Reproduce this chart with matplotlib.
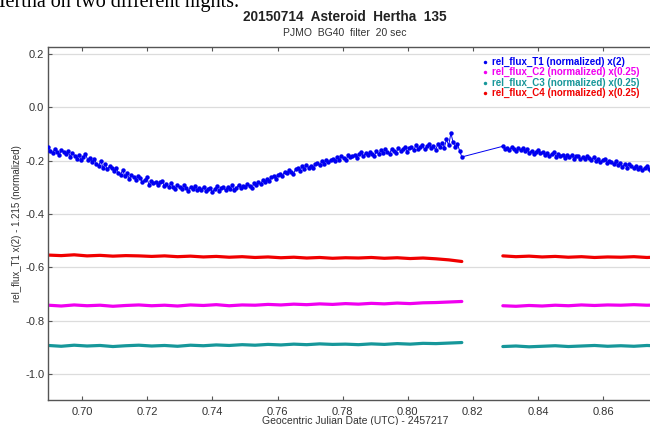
import numpy as np
import matplotlib
matplotlib.use("Agg")
import matplotlib.pyplot as plt
from matplotlib.lines import Line2D

plt.rcParams['font.family'] = ['Liberation Sans', 'DejaVu Sans']

# ---------------- data ----------------
# Target asteroid (rel_flux_T1), first and second observing blocks
t1_seg1_range = (0.6896, 0.8166)
t1_seg1 = [-0.148, -0.162, -0.171, -0.155, -0.166, -0.180, -0.159, -0.168, -0.176, -0.163,
           -0.185, -0.170, -0.181, -0.192, -0.178, -0.198, -0.186, -0.175, -0.197, -0.190,
           -0.204, -0.193, -0.212, -0.219, -0.201, -0.226, -0.214, -0.232, -0.221, -0.229,
           -0.238, -0.226, -0.245, -0.252, -0.236, -0.258, -0.247, -0.268, -0.255, -0.261,
           -0.272, -0.259, -0.266, -0.280, -0.273, -0.262, -0.291, -0.277, -0.284, -0.279,
           -0.290, -0.281, -0.276, -0.295, -0.288, -0.300, -0.284, -0.297, -0.305, -0.292,
           -0.298, -0.308, -0.293, -0.303, -0.314, -0.299, -0.306, -0.296, -0.311, -0.302,
           -0.309, -0.298, -0.315, -0.305, -0.301, -0.318, -0.307, -0.296, -0.312, -0.304,
           -0.300, -0.311, -0.297, -0.306, -0.293, -0.309, -0.302, -0.290, -0.304, -0.295,
           -0.299, -0.287, -0.296, -0.302, -0.285, -0.291, -0.280, -0.289, -0.273, -0.279,
           -0.268, -0.276, -0.262, -0.259, -0.267, -0.253, -0.249, -0.258, -0.241, -0.247,
           -0.236, -0.244, -0.250, -0.233, -0.228, -0.239, -0.221, -0.230, -0.216, -0.226,
           -0.219, -0.228, -0.213, -0.208, -0.217, -0.203, -0.211, -0.196, -0.205, -0.199,
           -0.192, -0.203, -0.188, -0.196, -0.183, -0.191, -0.199, -0.180, -0.188, -0.184,
           -0.178, -0.190, -0.175, -0.169, -0.183, -0.172, -0.179, -0.166, -0.174, -0.181,
           -0.165, -0.176, -0.160, -0.171, -0.157, -0.168, -0.174, -0.155, -0.164, -0.170,
           -0.151, -0.163, -0.158, -0.147, -0.166, -0.154, -0.149, -0.160, -0.143, -0.156,
           -0.150, -0.141, -0.158, -0.146, -0.137, -0.153, -0.144, -0.160, -0.139, -0.148,
           -0.134, -0.151, -0.120, -0.143, -0.097, -0.130, -0.148, -0.137, -0.163, -0.186]
t1_seg2_range = (0.8292, 0.8775)
t1_seg2 = [-0.146, -0.156, -0.151, -0.160, -0.148, -0.155, -0.163, -0.152, -0.159, -0.154,
           -0.165, -0.157, -0.170, -0.162, -0.175, -0.166, -0.159, -0.172, -0.167, -0.178,
           -0.170, -0.182, -0.176, -0.168, -0.185, -0.174, -0.181, -0.177, -0.189, -0.179,
           -0.186, -0.179, -0.192, -0.184, -0.181, -0.195, -0.187, -0.193, -0.183, -0.190,
           -0.196, -0.188, -0.201, -0.194, -0.206, -0.198, -0.192, -0.209, -0.200, -0.205,
           -0.212, -0.203, -0.218, -0.209, -0.222, -0.214, -0.226, -0.211, -0.219, -0.228,
           -0.220, -0.231, -0.224, -0.236, -0.227, -0.219, -0.233, -0.238, -0.226, -0.232,
           -0.229, -0.235]

# Comparison stars
c2_seg1 = [-0.742, -0.745, -0.741, -0.744, -0.742, -0.746, -0.743, -0.741, -0.744, -0.742,
           -0.745, -0.741, -0.743, -0.740, -0.744, -0.741, -0.742, -0.739, -0.741, -0.738,
           -0.740, -0.737, -0.739, -0.736, -0.738, -0.735, -0.737, -0.734, -0.736, -0.733,
           -0.732, -0.730, -0.728]
c2_seg2 = [-0.744, -0.746, -0.743, -0.745, -0.742, -0.744, -0.741, -0.743, -0.741, -0.742,
           -0.740, -0.742, -0.741]
c3_seg1 = [-0.893, -0.896, -0.892, -0.895, -0.893, -0.897, -0.894, -0.892, -0.895, -0.893,
           -0.896, -0.892, -0.894, -0.891, -0.893, -0.890, -0.892, -0.889, -0.891, -0.888,
           -0.890, -0.887, -0.889, -0.888, -0.890, -0.887, -0.889, -0.886, -0.888, -0.885,
           -0.886, -0.884, -0.882]
c3_seg2 = [-0.897, -0.895, -0.898, -0.896, -0.894, -0.897, -0.895, -0.893, -0.896, -0.894,
           -0.896, -0.893, -0.895]
c4_seg1 = [-0.554, -0.556, -0.553, -0.557, -0.555, -0.558, -0.556, -0.557, -0.559, -0.557,
           -0.560, -0.558, -0.561, -0.559, -0.562, -0.560, -0.563, -0.561, -0.564, -0.562,
           -0.565, -0.563, -0.566, -0.564, -0.565, -0.563, -0.566, -0.564, -0.567, -0.565,
           -0.568, -0.572, -0.578]
c4_seg2 = [-0.557, -0.560, -0.558, -0.561, -0.559, -0.562, -0.560, -0.563, -0.561, -0.562,
           -0.560, -0.563, -0.561]

labels = ["rel_flux_T1 (normalized) x(2)",
          "rel_flux_C2 (normalized) x(0.25)",
          "rel_flux_C3 (normalized) x(0.25)",
          "rel_flux_C4 (normalized) x(0.25)"]
colors = ["#0000f0", "#f000f0", "#16979a", "#f00000"]

xticks = [0.70, 0.72, 0.74, 0.76, 0.78, 0.80, 0.82, 0.84, 0.86]
yticks = [0.2, 0.0, -0.2, -0.4, -0.6, -0.8, -1.0]

# ---------------- figure ----------------
W, H = 650, 425
fig = plt.figure(figsize=(W / 100, H / 100), dpi=100)

def fx(px):
    return px / W

def fy(py):
    return 1 - py / H

ax_left, ax_right, ax_top, ax_bot = 48.3, 662.0, 46.7, 400.0
ax = fig.add_axes([fx(ax_left), fy(ax_bot), (ax_right - ax_left) / W, (ax_bot - ax_top) / H])
x0 = 0.6896
xr = x0 + (ax_right - ax_left) / 3256.0
ax.set_xlim(x0, xr)
ax.set_ylim(-1.0975, 0.2275)

for y in yticks:
    ax.axhline(y, color="#dcdcdc", lw=0.9, zorder=0)

def seg_times(rng, n):
    return np.linspace(rng[0], rng[1], n)

# comparison stars
for (s1, s2), col in zip([(c2_seg1, c2_seg2), (c3_seg1, c3_seg2), (c4_seg1, c4_seg2)], colors[1:]):
    for s, rng in ((s1, t1_seg1_range), (s2, t1_seg2_range)):
        ax.plot(seg_times(rng, len(s)), s, color=col, lw=2.3, solid_capstyle='round',
                zorder=2)

# target: one continuous line across the gap
ta = seg_times(t1_seg1_range, len(t1_seg1))
tb = seg_times(t1_seg2_range, len(t1_seg2))
tt = np.concatenate([ta, tb])
vv = np.concatenate([t1_seg1, t1_seg2])
ax.plot(tt, vv, color=colors[0], lw=0.7, marker='o', ms=3.2, mew=0, zorder=3)

ax.set_xticks(xticks)
ax.set_xticklabels([f"{v:.2f}" for v in xticks])
ax.set_yticks(yticks)
ax.set_yticklabels([f"{v:.1f}" for v in yticks])
ax.tick_params(axis='both', direction='in', length=3, width=0.8, color='#555555',
               labelsize=8, labelcolor='#333333', top=True)
ax.tick_params(axis='x', pad=5)
ax.tick_params(axis='y', pad=3)
for sp in ax.spines.values():
    sp.set_color('#555555')
    sp.set_linewidth(1.0)

ax.set_xlabel("Geocentric Julian Date (UTC) - 2457217", fontsize=7.5, color='#333333',
              labelpad=-1)
ax.set_ylabel("rel_flux_T1 x(2) - 1.215 (normalized)", fontsize=7, color='#333333',
              labelpad=2)

# legend (manual, cropped at the right edge)
for i, (lab, col) in enumerate(zip(labels, colors)):
    yy = 61.7 + i * 10.5
    fig.add_artist(Line2D([fx(484.5)], [fy(yy)], marker='o', ms=2.5, mew=0, color=col,
                          transform=fig.transFigure))
    fig.text(fx(492.5), fy(yy), lab, color=col, fontsize=7, fontweight='bold',
             va='center', ha='left')

# titles
fig.text(fx(345), fy(17), "20150714  Asteroid  Hertha  135", fontsize=9.8,
         fontweight='bold', ha='center', va='center', color='#222222')
fig.text(fx(345), fy(33), "PJMO  BG40  filter  20 sec", fontsize=7.5,
         ha='center', va='center', color='#333333')

# cropped text from surrounding document
fig.text(fx(-9), fy(7), "Hertha on two different nights.", fontsize=14.5,
         family=['Liberation Serif', 'DejaVu Serif'], ha='left', va='baseline',
         color='black')

fig.savefig("out.png", dpi=100)
